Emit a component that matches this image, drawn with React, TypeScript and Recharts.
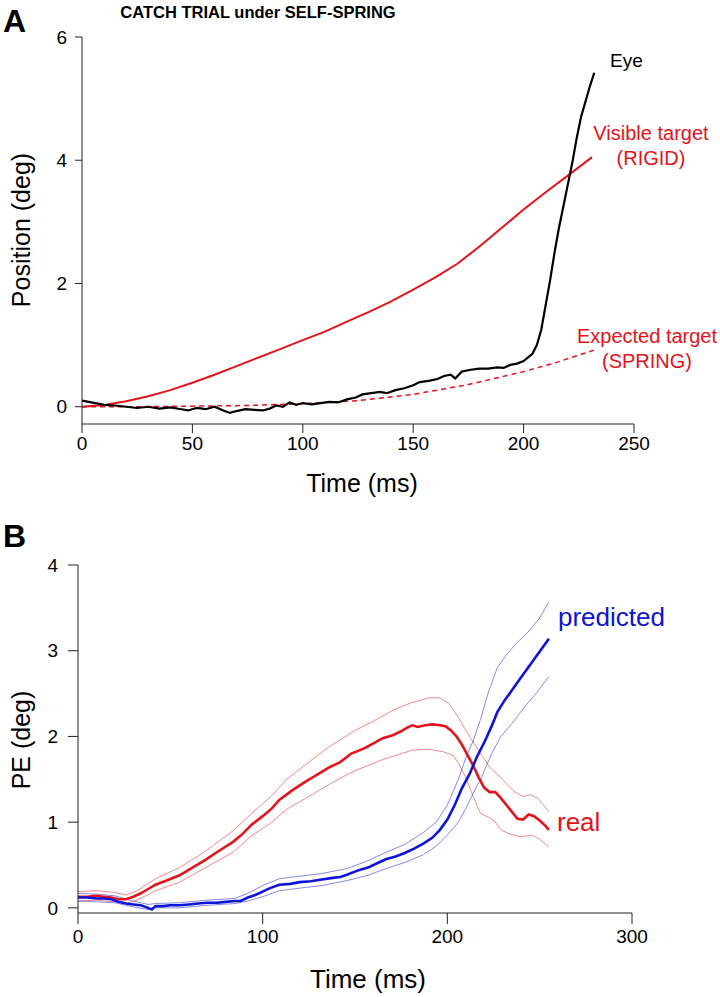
import { LineChart, Line, XAxis, YAxis } from "recharts";

const FONT = "'Liberation Sans', Arial, sans-serif";
const RED = "#e3131b";
const BLUE = "#0d14d6";

// ---- panel A: catch trial, position (deg) vs time (ms)
const eyeT = [0, 3, 6, 10, 15, 20, 25, 30, 35, 40, 45, 48, 52, 56, 60, 64, 67, 70, 74, 78, 82, 85, 88, 91, 94, 97, 100, 104, 108, 112, 116, 120, 124, 127, 131, 135, 138, 142, 146, 150, 153, 157, 161, 164, 167, 169, 172, 176, 180, 184, 188, 191, 194, 197, 200, 202, 204, 206, 208, 210, 212, 214, 216, 218, 220, 222, 224, 226, 228, 230, 232];
const eyePos = [0.1, 0.08, 0.06, 0.03, 0.02, 0.0, -0.02, 0.0, -0.03, -0.01, -0.04, -0.06, -0.02, -0.04, 0.0, -0.06, -0.1, -0.07, -0.04, -0.05, -0.06, -0.03, 0.02, 0.0, 0.07, 0.03, 0.06, 0.04, 0.06, 0.08, 0.07, 0.12, 0.15, 0.2, 0.22, 0.24, 0.22, 0.27, 0.3, 0.35, 0.4, 0.42, 0.45, 0.5, 0.52, 0.46, 0.57, 0.6, 0.62, 0.62, 0.64, 0.63, 0.68, 0.7, 0.74, 0.8, 0.86, 1.0, 1.25, 1.65, 2.05, 2.5, 2.9, 3.25, 3.6, 3.95, 4.35, 4.7, 4.95, 5.2, 5.42];

const visibleT = [0, 10, 20, 30, 40, 50, 60, 70, 80, 90, 100, 110, 120, 130, 140, 150, 160, 170, 180, 190, 200, 210, 220, 231];
const visiblePos = [0, 0.03, 0.09, 0.17, 0.27, 0.39, 0.52, 0.66, 0.8, 0.94, 1.08, 1.22, 1.38, 1.54, 1.71, 1.9, 2.1, 2.32, 2.6, 2.9, 3.2, 3.48, 3.75, 4.05];

const expectedT = [0, 25, 50, 75, 100, 125, 150, 175, 200, 215, 232];
const expectedPos = [0, 0, 0.01, 0.02, 0.05, 0.1, 0.2, 0.36, 0.57, 0.72, 0.92];

const ticksA_x = [0, 50, 100, 150, 200, 250];
const ticksA_y = [0, 2, 4, 6];

// ---- panel B: prediction error (deg) vs time (ms)
const realT = [0, 5, 10, 14, 18, 22, 26, 30, 34, 38, 42, 48, 55, 62, 69, 76, 84, 89, 94, 100, 105, 109, 116, 123, 130, 136, 142, 148, 155, 160, 165, 170, 175, 178, 181, 184, 188, 192, 196, 199, 202, 205, 208, 211, 214, 217, 220, 223, 226, 229, 232, 235, 238, 241, 244, 247, 250, 253, 255];
const realPE = [0.13, 0.13, 0.14, 0.13, 0.12, 0.1, 0.1, 0.13, 0.17, 0.22, 0.27, 0.32, 0.38, 0.47, 0.56, 0.66, 0.77, 0.86, 0.97, 1.07, 1.16, 1.26, 1.37, 1.47, 1.56, 1.64, 1.7, 1.8, 1.86, 1.92, 1.98, 2.01, 2.06, 2.1, 2.13, 2.11, 2.13, 2.14, 2.13, 2.12, 2.07, 2.0, 1.9, 1.78, 1.66, 1.52, 1.4, 1.35, 1.35, 1.28, 1.2, 1.12, 1.04, 1.03, 1.09, 1.07, 1.02, 0.96, 0.91];

const realHiT = [0, 10, 20, 26, 32, 42, 55, 69, 84, 94, 105, 113, 125, 136, 150, 160, 171, 180, 190, 196, 201, 206, 212, 218, 223, 227, 231, 236, 241, 245, 249, 252, 255];
const realHi = [0.19, 0.2, 0.18, 0.15, 0.2, 0.34, 0.47, 0.66, 0.9, 1.1, 1.31, 1.5, 1.7, 1.88, 2.07, 2.18, 2.31, 2.39, 2.45, 2.45, 2.38, 2.22, 2.0, 1.8, 1.64, 1.56, 1.47, 1.36, 1.3, 1.32, 1.28, 1.2, 1.12];

const realLoT = [0, 10, 20, 26, 32, 42, 55, 69, 84, 94, 105, 113, 125, 140, 150, 165, 181, 190, 198, 203, 206, 210, 214, 218, 223, 226, 229, 234, 240, 246, 250, 255];
const realLo = [0.08, 0.09, 0.07, 0.05, 0.09, 0.2, 0.3, 0.47, 0.65, 0.84, 1.0, 1.15, 1.3, 1.49, 1.6, 1.73, 1.84, 1.85, 1.82, 1.78, 1.69, 1.52, 1.3, 1.1, 1.05, 1.0, 0.91, 0.86, 0.83, 0.85, 0.8, 0.71];

const predT = [0, 5, 10, 14, 18, 22, 26, 30, 34, 38, 40, 42, 46, 50, 55, 60, 65, 70, 75, 80, 85, 88, 92, 96, 100, 104, 109, 115, 120, 126, 132, 138, 142, 146, 152, 157, 162, 167, 172, 177, 182, 187, 192, 196, 200, 204, 208, 212, 216, 220, 224, 227, 231, 235, 239, 243, 247, 251, 255];
const predPE = [0.12, 0.12, 0.11, 0.11, 0.1, 0.07, 0.05, 0.04, 0.03, 0.0, -0.02, 0.02, 0.02, 0.03, 0.03, 0.04, 0.05, 0.06, 0.06, 0.07, 0.08, 0.08, 0.12, 0.15, 0.19, 0.23, 0.27, 0.28, 0.3, 0.31, 0.33, 0.35, 0.36, 0.39, 0.44, 0.47, 0.52, 0.57, 0.6, 0.64, 0.69, 0.75, 0.82, 0.91, 1.03, 1.2, 1.4, 1.56, 1.76, 1.93, 2.12, 2.28, 2.42, 2.54, 2.66, 2.78, 2.9, 3.02, 3.14];

const predHiT = [0, 10, 20, 30, 38, 42, 55, 70, 85, 92, 100, 109, 120, 132, 146, 157, 167, 177, 187, 194, 200, 206, 210, 214, 218, 222, 227, 232, 237, 243, 250, 255];
const predHi = [0.17, 0.16, 0.14, 0.08, 0.04, 0.05, 0.06, 0.09, 0.11, 0.17, 0.26, 0.34, 0.37, 0.4, 0.46, 0.55, 0.65, 0.74, 0.88, 1.0, 1.2, 1.5, 1.75, 1.95, 2.2, 2.5, 2.8, 2.95, 3.08, 3.2, 3.38, 3.57];

const predLoT = [0, 10, 20, 30, 38, 42, 55, 70, 85, 92, 100, 109, 120, 132, 146, 157, 167, 177, 187, 194, 200, 206, 211, 215, 219, 224, 229, 235, 242, 248, 255];
const predLo = [0.08, 0.07, 0.06, 0.01, -0.02, 0.0, 0.0, 0.03, 0.05, 0.08, 0.13, 0.2, 0.23, 0.26, 0.32, 0.38, 0.46, 0.53, 0.62, 0.72, 0.85, 1.0, 1.2, 1.38, 1.55, 1.8, 2.0, 2.15, 2.35, 2.5, 2.7];

const ticksB_x = [0, 100, 200, 300];
const ticksB_y = [0, 1, 2, 3, 4];

const rows = (t: number[], v: number[]) => t.map((x, i) => ({ t: x, v: v[i] }));

const tickStyle = { fontSize: 19, fill: "#000", fontFamily: FONT };
const axisLine = { stroke: "#222", strokeWidth: 1 };

function PanelA() {
  return (
    <LineChart width={720} height={500} margin={{ top: 37, right: 86, bottom: 6, left: 22 }}>
      <XAxis
        dataKey="t"
        type="number"
        domain={[0, 250]}
        ticks={ticksA_x}
        interval={0}
        height={70}
        tickSize={9}
        tickMargin={4}
        tick={tickStyle}
        axisLine={axisLine}
        tickLine={axisLine}
      />
      <YAxis
        dataKey="v"
        type="number"
        domain={[-0.28, 6]}
        ticks={ticksA_y}
        interval={0}
        width={60}
        tickSize={7}
        tickMargin={8}
        tick={tickStyle}
        axisLine={axisLine}
        tickLine={axisLine}
      />
      <Line data={rows(visibleT, visiblePos)} dataKey="v" stroke={RED} strokeWidth={2} dot={false} type="linear" isAnimationActive={false} />
      <Line data={rows(expectedT, expectedPos)} dataKey="v" stroke={RED} strokeWidth={1.5} strokeDasharray="5 4" dot={false} type="linear" isAnimationActive={false} />
      <Line data={rows(eyeT, eyePos)} dataKey="v" stroke="#000" strokeWidth={2.2} dot={false} type="linear" isAnimationActive={false} />
    </LineChart>
  );
}

function PanelB() {
  const thin = { strokeWidth: 1, strokeOpacity: 0.5, dot: false, type: "linear" as const, isAnimationActive: false };
  return (
    <LineChart width={720} height={497} margin={{ top: 65, right: 88, bottom: 14, left: 18 }}>
      <XAxis
        dataKey="t"
        type="number"
        domain={[0, 300]}
        ticks={ticksB_x}
        interval={0}
        height={70}
        tickSize={11}
        tickMargin={6}
        tick={tickStyle}
        axisLine={axisLine}
        tickLine={axisLine}
      />
      <YAxis
        dataKey="v"
        type="number"
        domain={[-0.06, 4]}
        ticks={ticksB_y}
        interval={0}
        width={60}
        tickSize={10}
        tickMargin={10}
        tick={tickStyle}
        axisLine={axisLine}
        tickLine={axisLine}
      />
      <Line data={rows(realHiT, realHi)} dataKey="v" stroke={RED} {...thin} />
      <Line data={rows(realLoT, realLo)} dataKey="v" stroke={RED} {...thin} />
      <Line data={rows(predHiT, predHi)} dataKey="v" stroke={BLUE} {...thin} />
      <Line data={rows(predLoT, predLo)} dataKey="v" stroke={BLUE} {...thin} />
      <Line data={rows(realT, realPE)} dataKey="v" stroke={RED} strokeWidth={2.6} dot={false} type="linear" isAnimationActive={false} />
      <Line data={rows(predT, predPE)} dataKey="v" stroke={BLUE} strokeWidth={2.6} dot={false} type="linear" isAnimationActive={false} />
    </LineChart>
  );
}

export default function App() {
  return (
    <div style={{ position: "absolute", left: 0, top: 0, width: 720, height: 997, background: "#fff", fontFamily: FONT }}>
      <div style={{ position: "absolute", left: 0, top: 0 }}>
        <PanelA />
      </div>
      <div style={{ position: "absolute", left: 0, top: 500 }}>
        <PanelB />
      </div>
      <svg width={720} height={997} style={{ position: "absolute", left: 0, top: 0, pointerEvents: "none" }} fontFamily={FONT}>
        <text x={3} y={32} fontSize={32} fontWeight="bold">A</text>
        <text x={3} y={547} fontSize={32} fontWeight="bold">B</text>
        <text x={258} y={18} fontSize={16.5} fontWeight="bold" textAnchor="middle">CATCH TRIAL under SELF-SPRING</text>

        <text x={362} y={492} fontSize={25} textAnchor="middle">Time (ms)</text>
        <text transform="translate(30,230) rotate(-90)" fontSize={25} textAnchor="middle">Position (deg)</text>
        <text x={368} y={988} fontSize={26} textAnchor="middle">Time (ms)</text>
        <text transform="translate(30,740) rotate(-90)" fontSize={25} textAnchor="middle">PE (deg)</text>

        <text x={610} y={67} fontSize={19}>Eye</text>
        <text x={651} y={140} fontSize={20} fill={RED} textAnchor="middle">Visible target</text>
        <text x={651} y={165} fontSize={20} fill={RED} textAnchor="middle">(RIGID)</text>
        <text x={647} y={343} fontSize={20} fill={RED} textAnchor="middle">Expected target</text>
        <text x={647} y={368} fontSize={20} fill={RED} textAnchor="middle">(SPRING)</text>

        <text x={558} y={626} fontSize={26} fill={BLUE}>predicted</text>
        <text x={557} y={831} fontSize={26} fill={RED}>real</text>
      </svg>
    </div>
  );
}
